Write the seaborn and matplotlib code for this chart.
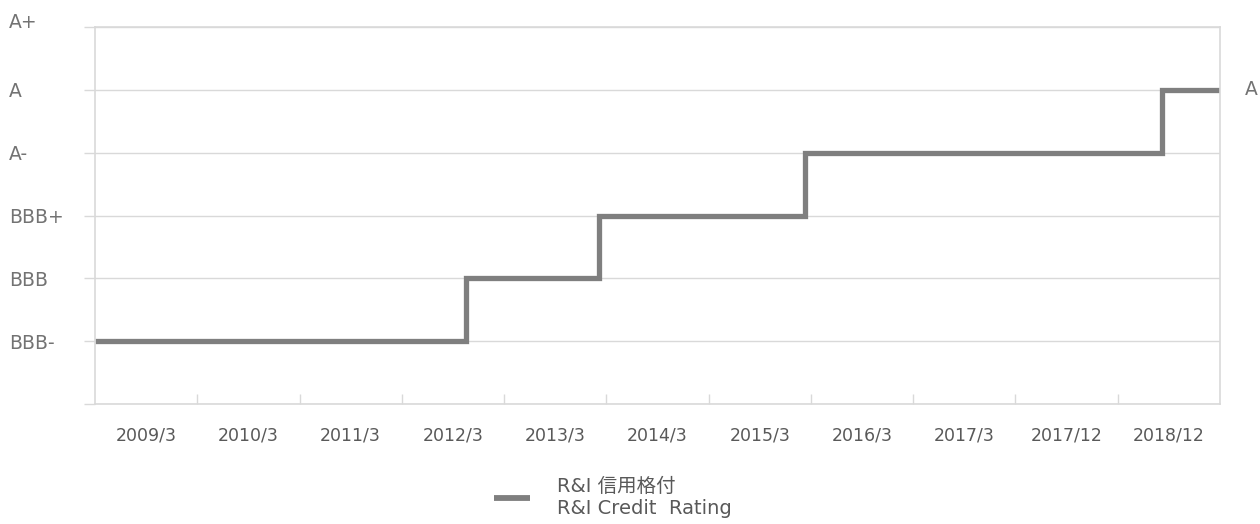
import numpy as np
import pandas as pd
import seaborn as sns
import matplotlib.pyplot as plt
import matplotlib.transforms as mtransforms

# Data
periods = ['2009/3', '2010/3', '2011/3', '2012/3', '2013/3', '2014/3',
           '2015/3', '2016/3', '2017/3', '2017/12', '2018/12']
rating_names = ['', 'BBB-', 'BBB', 'BBB+', 'A-', 'A', 'A+']
# rating changes: position along the category axis (in category widths) and rating reached
change_pos = [0.0, 3.63, 4.93, 6.94, 10.43, 11.0]
change_rating = ['BBB-', 'BBB', 'BBB+', 'A-', 'A', 'A']
series_label = 'R&I 信用格付\nR&I Credit  Rating'

df = pd.DataFrame({'pos': change_pos,
                   'level': [rating_names.index(r) for r in change_rating]})

sns.set_theme(style='white')
plt.rcParams['font.family'] = ['DejaVu Sans', 'Noto Sans CJK JP']

TXT = '#595959'
YTXT = '#737373'
GRID = '#d9d9d9'
LINE = '#7f7f7f'

fig = plt.figure(figsize=(12.6, 5.24), dpi=100)
ax = fig.add_axes([95 / 1260, 1 - 404 / 524, 1125 / 1260, 377 / 524])

sns.lineplot(data=df, x='pos', y='level', drawstyle='steps-post', color=LINE,
             linewidth=3.8, label=series_label, ax=ax, legend=False,
             solid_joinstyle='miter', solid_capstyle='butt')

ax.set_xlim(0, len(periods))
ax.set_ylim(0, len(rating_names) - 1)

# y axis
ax.set_yticks(range(len(rating_names)))
ax.set_yticklabels(rating_names)
ax.tick_params(axis='y', direction='out', length=8, width=1, color=GRID,
               labelsize=13.5, labelcolor=YTXT, pad=54, left=True)
for lab in ax.get_yticklabels():
    lab.set_horizontalalignment('left')
# top label sits a little higher, as in the original
top = ax.get_yticklabels()[-1]
top.set_transform(top.get_transform() +
                  mtransforms.ScaledTranslation(0, 6 / 100, fig.dpi_scale_trans))
ax.yaxis.grid(True, color=GRID, linewidth=1)

# x axis: ticks between categories, labels centred
ax.set_xticks(range(1, len(periods)))
ax.set_xticklabels([])
ax.set_xticks(np.arange(len(periods)) + 0.5, minor=True)
ax.set_xticklabels(periods, minor=True)
ax.tick_params(axis='x', which='major', direction='in', length=7, width=1,
               color=GRID, bottom=True)
ax.tick_params(axis='x', which='minor', length=0, labelsize=12.5,
               labelcolor=TXT, pad=16)

for s in ax.spines.values():
    s.set_color(GRID)
    s.set_linewidth(1.2)

ax.set_xlabel('')
ax.set_ylabel('')

# end-point data label
ax.annotate(change_rating[-1], xy=(change_pos[-1], rating_names.index(change_rating[-1])),
            xytext=(18, 0), textcoords='offset points', ha='left', va='center',
            fontsize=13.5, color=YTXT, annotation_clip=False)

handles, labels = ax.get_legend_handles_labels()
leg = fig.legend(handles, labels, loc='center left', bbox_to_anchor=(0.378, 0.05),
                 frameon=False, fontsize=14, labelcolor=TXT, handlelength=1.85,
                 handletextpad=1.4)
for h in leg.get_lines():
    h.set_solid_capstyle('butt')
    h.set_linewidth(4.2)

fig.savefig('out.png', dpi=100)
